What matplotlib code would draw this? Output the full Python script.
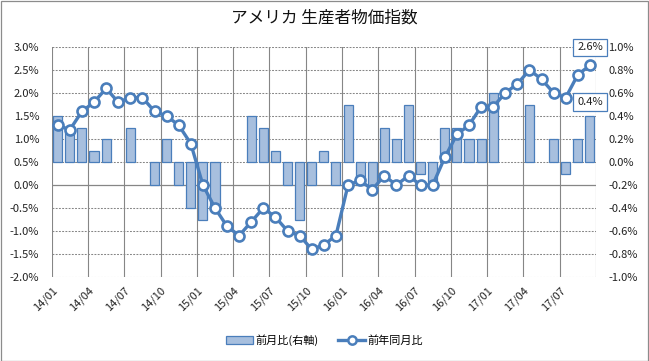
import matplotlib
matplotlib.use("Agg")
import matplotlib.pyplot as plt
from matplotlib.patches import Rectangle, Patch
from matplotlib.lines import Line2D
import numpy as np

plt.rcParams['font.family'] = ['Noto Sans CJK JP', 'DejaVu Sans']

months = ["14/01","14/02","14/03","14/04","14/05","14/06","14/07","14/08","14/09","14/10","14/11","14/12",
          "15/01","15/02","15/03","15/04","15/05","15/06","15/07","15/08","15/09","15/10","15/11","15/12",
          "16/01","16/02","16/03","16/04","16/05","16/06","16/07","16/08","16/09","16/10","16/11","16/12",
          "17/01","17/02","17/03","17/04","17/05","17/06","17/07","17/08","17/09"]
yoy = [1.3, 1.2, 1.6, 1.8, 2.1, 1.8, 1.9, 1.9, 1.6, 1.5, 1.3, 0.9,
       0.0, -0.5, -0.9, -1.1, -0.8, -0.5, -0.7, -1.0, -1.1, -1.4, -1.3, -1.1,
       0.0, 0.1, -0.1, 0.2, 0.0, 0.2, 0.0, 0.0, 0.6, 1.1, 1.3, 1.7,
       1.7, 2.0, 2.2, 2.5, 2.3, 2.0, 1.9, 2.4, 2.6]
mom = [0.4, 0.3, 0.3, 0.1, 0.2, 0.0, 0.3, 0.0, -0.2, 0.2, -0.2, -0.4,
       -0.5, -0.4, 0.0, 0.0, 0.4, 0.3, 0.1, -0.2, -0.5, -0.2, 0.1, -0.2,
       0.5, -0.2, -0.2, 0.3, 0.2, 0.5, -0.1, -0.2, 0.3, 0.3, 0.2, 0.2,
       0.6, 0.0, 0.0, 0.5, 0.0, 0.2, -0.1, 0.2, 0.4]
tick_labels = ["14/01","14/04","14/07","14/10","15/01","15/04","15/07","15/10",
               "16/01","16/04","16/07","16/10","17/01","17/04","17/07"]
left_ticks = [-2.0, -1.5, -1.0, -0.5, 0.0, 0.5, 1.0, 1.5, 2.0, 2.5, 3.0]
right_ticks = [-1.0, -0.8, -0.6, -0.4, -0.2, 0.0, 0.2, 0.4, 0.6, 0.8, 1.0]

title = "アメリカ 生産者物価指数"
bar_label = "前月比(右軸)"
line_label = "前年同月比"

W, H = 649, 361
fig = plt.figure(figsize=(W/100, H/100), dpi=100)
fig.patch.set_facecolor('white')

L, R, T, B = 51.7, 596, 47, 277
ax = fig.add_axes([L/W, 1-B/H, (R-L)/W, (B-T)/H])
ax2 = ax.twinx()

line_color = '#4A7EBB'
bar_face = '#A7BFDE'
grid_color = '#868686'

x = np.arange(len(months))

# bars on right axis
ax2.set_ylim(-1.0, 1.0)
edge_widths = [0.9 if v != 0 else 0.0 for v in mom]
ax2.bar(x, mom, width=0.75, color=bar_face, edgecolor=line_color, linewidth=edge_widths, zorder=3)

# gridlines on ax2 (behind bars)
for v in right_ticks:
    if abs(v - (-0.2)) < 1e-9:
        ax2.axhline(v, color=grid_color, lw=0.9, zorder=1)
    else:
        ax2.axhline(v, color=grid_color, lw=0.75, ls=(0, (1.8, 1.3)), zorder=1)
for k in range(0, len(months) + 1, 3):
    ax2.axvline(k - 0.5, color=grid_color, lw=0.8, zorder=1)

# line on left axis, above bars
ax.set_zorder(ax2.get_zorder() + 1)
ax.patch.set_visible(False)
ax.set_ylim(-2.0, 3.0)
ax.plot(x, yoy, color=line_color, lw=2.4, marker='o', markersize=7.2,
        markerfacecolor='white', markeredgecolor=line_color, markeredgewidth=1.9, zorder=4)

ax.set_xlim(-0.5, len(months) - 0.5)
ax2.set_xlim(-0.5, len(months) - 0.5)

for a in (ax, ax2):
    for s in a.spines.values():
        s.set_visible(False)

ax.set_yticks(left_ticks)
ax.set_yticklabels([f"{v:.1f}%" for v in left_ticks])
ax2.set_yticks(right_ticks)
ax2.set_yticklabels([f"{v:.1f}%" for v in right_ticks])
ax.tick_params(axis='y', length=0, pad=9, labelsize=8, labelcolor='#222222')
ax2.tick_params(axis='y', length=0, pad=9, labelsize=8, labelcolor='#222222')

xt = [k - 0.5 for k in range(0, len(months), 3)]
ax.set_xticks(xt)
ax.set_xticklabels(tick_labels, rotation=45, ha='right', rotation_mode='anchor')
ax.tick_params(axis='x', length=0, pad=6, labelsize=8, labelcolor='#222222')
ax2.tick_params(axis='x', length=0)

# data labels
bbox = dict(boxstyle='square,pad=0.35', fc='white', ec=line_color, lw=0.9)
ax.annotate(f"{yoy[-1]:.1f}%", xy=(x[-1], yoy[-1]), xytext=(0, 18), textcoords='offset pixels',
            ha='center', va='center', fontsize=8, color='#222222', bbox=bbox, zorder=6,
            annotation_clip=False)
ax.annotate(f"{mom[-1]:.1f}%", xy=(x[-1], mom[-1]), xycoords=ax2.transData,
            xytext=(0, 14), textcoords='offset pixels',
            ha='center', va='center', fontsize=8, color='#222222', bbox=bbox, zorder=6,
            annotation_clip=False)

fig.text(0.5, 1 - 18/H, title, ha='center', va='center', fontsize=12, color='#111111')

handles = [Patch(facecolor=bar_face, edgecolor=line_color, linewidth=0.9),
           Line2D([0], [0], color=line_color, lw=2.4, marker='o', markersize=6,
                  markerfacecolor='white', markeredgecolor=line_color, markeredgewidth=1.8)]
fig.legend(handles, [bar_label, line_label], loc='center', bbox_to_anchor=(0.5, 1 - 340/H),
           ncol=2, frameon=False, fontsize=8, handlelength=2.4, handletextpad=0.2,
           columnspacing=1.8)

fig.add_artist(Rectangle((0.5/W, 0.5/H), 1 - 1.5/W, 1 - 1.5/H, transform=fig.transFigure,
                         fill=False, ec='#8C8C8C', lw=0.9))

fig.savefig('out.png', dpi=100)
